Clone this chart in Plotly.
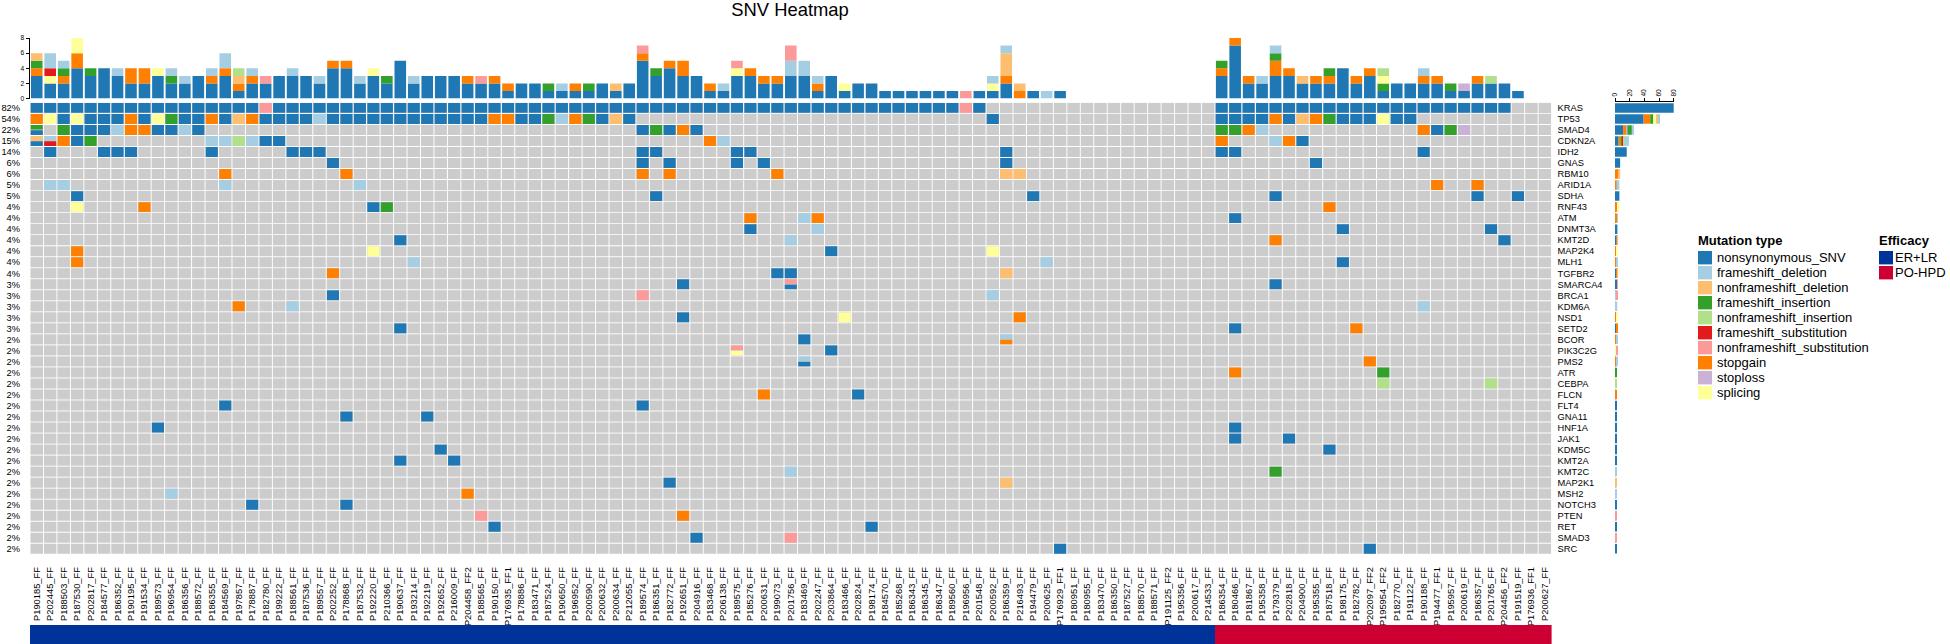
import plotly.graph_objects as go

# ---------------------------------------------------------------- data
samples = """P190185_FF P202445_FF P188503_FF P187530_FF P202817_FF P184577_FF P186352_FF P190195_FF P191534_FF P189573_FF
P196954_FF P186356_FF P188572_FF P186355_FF P184569_FF P197857_FF P178887_FF P182780_FF P199222_FF P188561_FF
P187536_FF P189557_FF P202252_FF P178868_FF P187532_FF P192220_FF P210366_FF P190637_FF P193214_FF P192219_FF
P192652_FF P216009_FF P204458_FF2 P188565_FF P190150_FF P176935_FF1 P178886_FF P183471_FF P187524_FF P190650_FF
P196952_FF P200590_FF P200632_FF P200634_FF P212055_FF P189574_FF P186351_FF P182772_FF P192651_FF P204916_FF
P183468_FF P206138_FF P189575_FF P185276_FF P200631_FF P199073_FF P201756_FF P183469_FF P202247_FF P203864_FF
P183466_FF P202824_FF P198174_FF P184570_FF P185268_FF P186343_FF P186345_FF P186347_FF P189560_FF P196956_FF
P201548_FF P200592_FF P186359_FF P216493_FF P194479_FF P200625_FF P176929_FF1 P180951_FF P180955_FF P183470_FF
P186350_FF P187527_FF P188570_FF P188571_FF P191125_FF2 P195356_FF P200617_FF P214533_FF P186354_FF P180466_FF
P181867_FF P195358_FF P179379_FF P202818_FF P204900_FF P195355_FF P187518_FF P198175_FF P182782_FF P202097_FF2
P195954_FF2 P182770_FF P191122_FF P190188_FF P194477_FF1 P195957_FF P200619_FF P186357_FF P201765_FF P204456_FF2
P191519_FF P176936_FF1 P200627_FF""".split()

efficacy_groups = ["ER+LR", "PO-HPD"]
efficacy_sample_counts = [88, 25]

genes = ["KRAS", "TP53", "SMAD4", "CDKN2A", "IDH2", "GNAS", "RBM10", "ARID1A", "SDHA", "RNF43", "ATM", "DNMT3A",
         "KMT2D", "MAP2K4", "MLH1", "TGFBR2", "SMARCA4", "BRCA1", "KDM6A", "NSD1", "SETD2", "BCOR", "PIK3C2G",
         "PMS2", "ATR", "CEBPA", "FLCN", "FLT4", "GNA11", "HNF1A", "JAK1", "KDM5C", "KMT2A", "KMT2C", "MAP2K1",
         "MSH2", "NOTCH3", "PTEN", "RET", "SMAD3", "SRC"]
gene_percent = [82, 54, 22, 15, 14, 6, 6, 5, 5, 4, 4, 4, 4, 4, 4, 4, 3, 3, 3, 3, 3, 2, 2, 2, 2, 2, 2, 2, 2, 2, 2, 2,
                2, 2, 2, 2, 2, 2, 2, 2, 2]

# legend order, names and colours
mutation_codes = ["N", "fd", "nd", "fi", "ni", "fs", "ns", "sg", "sl", "sp"]
mutation_names = ["nonsynonymous_SNV", "frameshift_deletion", "nonframeshift_deletion", "frameshift_insertion",
                  "nonframeshift_insertion", "frameshift_substitution", "nonframeshift_substitution",
                  "stopgain", "stoploss", "splicing"]
mutation_colors = ["#1F78B4", "#A6CEE3", "#FDBF6F", "#33A02C", "#B2DF8A", "#E31A1C", "#FB9A99", "#FF7F00",
                   "#CAB2D6", "#FFFF99"]
# order in which mutation types pile up, from the bottom of a stack
stack_order = ["N", "sg", "sl", "fi", "sp", "fs", "nd", "ni", "fd", "ns"]

# one record per gene: mutation type -> sample columns that carry it
KRAS = {"N": [0, 1, 2, 3, 4, 5, 6, 7, 8, 9, 10, 11, 12, 13, 14, 15, 16, 18, 19, 20, 21, 22, 23, 24, 25, 26, 27, 28,
              29, 30, 31, 32, 33, 34, 35, 36, 37, 38, 39, 40, 41, 42, 43, 44, 45, 46, 47, 48, 49, 50, 51, 52, 53,
              54, 55, 56, 57, 58, 59, 60, 61, 62, 63, 64, 65, 66, 67, 68, 70, 88, 89, 90, 91, 92, 93, 94, 95, 96,
              97, 98, 99, 100, 101, 102, 103, 104, 105, 106, 107, 108, 109],
        "ns": [17, 69]}
TP53 = {"sg": [0, 7, 13, 16, 34, 35, 40, 92, 95], "sp": [1, 3, 9, 100], "fi": [10, 38, 41, 96],
        "nd": [15, 43, 94], "fd": [21, 39],
        "N": [2, 4, 5, 6, 8, 11, 12, 14, 17, 18, 19, 20, 22, 23, 24, 25, 26, 27, 28, 29, 30, 31, 32, 33, 36, 37, 42,
              44, 71, 88, 89, 90, 91, 93, 97, 98, 99, 101, 102]}
SMAD4 = {"fi": [0, 2, 46, 88, 89, 105], "N": [0, 3, 4, 5, 9, 10, 12, 45, 47, 49, 104], "fd": [6, 11, 91],
         "sg": [7, 8, 48, 90, 103], "sl": [106]}
CDKN2A = {"nd": [0], "N": [0, 3, 17, 18, 94], "fd": [1, 13, 14, 16, 51, 92], "fs": [1], "sg": [2, 50, 88, 93],
          "fi": [4], "ni": [15]}
IDH2 = {"N": [1, 5, 6, 7, 13, 19, 20, 21, 45, 46, 52, 53, 72, 88, 89, 103]}
GNAS = {"N": [22, 45, 47, 52, 54, 72, 95]}
RBM10 = {"sg": [14, 23, 45, 47, 55], "nd": [72, 73]}
ARID1A = {"fd": [1, 2, 14, 24], "sg": [104, 107]}
SDHA = {"N": [3, 46, 74, 92, 107, 110]}
RNF43 = {"sp": [3], "sg": [8, 96], "N": [25], "fi": [26]}
ATM = {"sg": [53, 58], "fd": [57], "N": [89]}
DNMT3A = {"N": [53, 97, 108], "fd": [58]}
KMT2D = {"N": [27, 109], "fd": [56], "sg": [92]}
MAP2K4 = {"sg": [3], "sp": [25, 71], "N": [59]}
MLH1 = {"sg": [3], "fd": [28, 75], "N": [97]}
TGFBR2 = {"sg": [22], "N": [55, 56], "nd": [72]}
SMARCA4 = {"N": [48, 56, 92], "ns": [56]}
BRCA1 = {"N": [22], "ns": [45], "fd": [71]}
KDM6A = {"sg": [15], "fd": [19, 103]}
NSD1 = {"N": [48], "sp": [60], "sg": [73]}
SETD2 = {"N": [27, 89], "sg": [98]}
BCOR = {"N": [57], "fd": [72], "sg": [72]}
PIK3C2G = {"ns": [52], "sp": [52], "N": [59]}
PMS2 = {"fd": [57], "N": [57], "sg": [99]}
ATR = {"sg": [89], "fi": [100]}
CEBPA = {"ni": [100, 108]}
FLCN = {"sg": [54], "N": [61]}
FLT4 = {"N": [14, 45]}
GNA11 = {"N": [23, 29]}
HNF1A = {"N": [9, 89]}
JAK1 = {"N": [89, 93]}
KDM5C = {"N": [30, 96]}
KMT2A = {"N": [27, 31]}
KMT2C = {"fd": [56], "fi": [92]}
MAP2K1 = {"N": [47], "nd": [72]}
MSH2 = {"fd": [10], "sg": [32]}
NOTCH3 = {"N": [16, 23]}
PTEN = {"ns": [33], "sg": [48]}
RET = {"N": [34, 62]}
SMAD3 = {"N": [49], "ns": [56]}
SRC = {"N": [76, 99]}
gene_records = [KRAS, TP53, SMAD4, CDKN2A, IDH2, GNAS, RBM10, ARID1A, SDHA, RNF43, ATM, DNMT3A, KMT2D, MAP2K4, MLH1,
                TGFBR2, SMARCA4, BRCA1, KDM6A, NSD1, SETD2, BCOR, PIK3C2G, PMS2, ATR, CEBPA, FLCN, FLT4, GNA11,
                HNF1A, JAK1, KDM5C, KMT2A, KMT2C, MAP2K1, MSH2, NOTCH3, PTEN, RET, SMAD3, SRC]

top_ticks = [0, 2, 4, 6, 8]
right_ticks = [0, 20, 40, 60, 80]

# ---------------------------------------------------------------- layout constants (pixels)
W, H = 1950, 644
LEFT, RIGHT = 30.0, 1551.6
HM_TOP, HM_BOTTOM = 102.4, 554.3
BAR_TOP, BAR_BOTTOM = 38.0, 98.6
RB_LEFT, RB_RIGHT = 1615.0, 1673.7
ANN_TOP, ANN_BOTTOM = 625.0, 644.0
FONT = "Liberation Sans, Arial, Helvetica, sans-serif"
GREY = "#CCCCCC"

def xdom(a, b):
    return [a / W, b / W]

def ydom(top, bottom):
    return [1 - bottom / H, 1 - top / H]

n_s, n_g = len(samples), len(genes)
color_of = dict(zip(mutation_codes, mutation_colors))
name_of = dict(zip(mutation_codes, mutation_names))

# which types sit in each cell, in stack order
cell_types = {}
for r, rec in enumerate(gene_records):
    for code in stack_order:
        for c in rec.get(code, []):
            cell_types.setdefault((r, c), []).append(code)

CELL_H = 0.90
GAP = 0.06
cell_x = {k: [] for k in mutation_codes}
cell_y = {k: [] for k in mutation_codes}
cell_h = {k: [] for k in mutation_codes}
for (r, c), types in cell_types.items():
    k = len(types)
    h = (CELL_H - GAP * (k - 1)) / k
    # the earliest type in the stack order takes the lower part of the cell
    for j, code in enumerate(reversed(types)):
        cell_x[code].append(c)
        cell_y[code].append(r - CELL_H / 2 + j * (h + GAP))
        cell_h[code].append(h)

# per-sample and per-gene stacked counts
col_counts = {k: [0] * n_s for k in mutation_codes}
row_counts = {k: [0] * n_g for k in mutation_codes}
for (r, c), types in cell_types.items():
    for code in types:
        col_counts[code][c] += 1
        row_counts[code][r] += 1

fig = go.Figure()

# grey background cells
bg_x = [c for r in range(n_g) for c in range(n_s)]
bg_y = [r for r in range(n_g) for c in range(n_s)]
fig.add_trace(go.Bar(x=bg_x, y=[CELL_H + 0.02] * len(bg_x), base=[v - (CELL_H + 0.02) / 2 for v in bg_y], width=0.93,
                     marker=dict(color=GREY, line=dict(width=0)), xaxis="x", yaxis="y", showlegend=False,
                     hoverinfo="skip"))

# mutation cells
for code in stack_order:
    if cell_x[code]:
        fig.add_trace(go.Bar(x=cell_x[code], y=cell_h[code], base=cell_y[code], width=0.90, name=name_of[code],
                             marker=dict(color=color_of[code], line=dict(width=0)), xaxis="x", yaxis="y2",
                             showlegend=False, hoverinfo="skip"))

# top stacked bars
col_base = [0] * n_s
for code in stack_order:
    vals = col_counts[code]
    fig.add_trace(go.Bar(x=list(range(n_s)), y=vals, base=list(col_base), width=0.86, name=name_of[code],
                         marker=dict(color=color_of[code], line=dict(width=0)), xaxis="x2", yaxis="y3",
                         cliponaxis=False, showlegend=False, hoverinfo="skip"))
    col_base = [a + b for a, b in zip(col_base, vals)]

# right stacked bars
row_base = [0] * n_g
for code in stack_order:
    vals = row_counts[code]
    fig.add_trace(go.Bar(y=list(range(n_g)), x=vals, base=list(row_base), width=0.86, orientation="h",
                         name=name_of[code], marker=dict(color=color_of[code], line=dict(width=0)),
                         xaxis="x3", yaxis="y4", cliponaxis=False, showlegend=False, hoverinfo="skip"))
    row_base = [a + b for a, b in zip(row_base, vals)]

# efficacy annotation strip
group_index = [i for i, n in enumerate(efficacy_sample_counts) for _ in range(n)]
efficacy_colors = ["#003399", "#CC0033"]
fig.add_trace(go.Heatmap(z=[group_index], x=list(range(n_s)), y=[0], zmin=0, zmax=1,
                         colorscale=[[0, efficacy_colors[0]], [0.5, efficacy_colors[0]],
                                     [0.5, efficacy_colors[1]], [1, efficacy_colors[1]]],
                         showscale=False, xaxis="x4", yaxis="y5", hoverinfo="skip"))

cell_range = [n_g - 0.5, -0.5]
x_range = [-0.5, n_s - 0.5]
blank = dict(showgrid=False, zeroline=False, showline=False, showticklabels=False, ticks="")
tick_font = dict(family=FONT, size=9.3, color="#000000")
small_font = dict(family=FONT, size=6.6, color="#000000")

fig.update_layout(
    width=W, height=H, autosize=False, margin=dict(l=0, r=0, t=0, b=0, pad=0, autoexpand=False), barmode="overlay",
    paper_bgcolor="#FFFFFF", plot_bgcolor="#FFFFFF", font=dict(family=FONT, color="#000000"),
    title=dict(text="SNV Heatmap", x=790 / W, xanchor="center", y=1 - 9.5 / H, yanchor="middle", yref="container",
               font=dict(family=FONT, size=18.4, color="#000000")),
    xaxis=dict(domain=xdom(LEFT, RIGHT), range=x_range, anchor="y", tickmode="array",
               tickvals=list(range(n_s)), ticktext=samples, tickangle=-90, tickfont=tick_font,
               showgrid=False, zeroline=False, showline=False, ticks="", ticklabelstandoff=10, automargin=False),
    yaxis=dict(domain=ydom(HM_TOP, HM_BOTTOM), range=cell_range, anchor="x", tickmode="array",
               tickvals=list(range(n_g)), ticktext=[f"{p}%" for p in gene_percent], tickfont=tick_font,
               showgrid=False, zeroline=False, showline=False, ticks="", ticklabelstandoff=9, automargin=False),
    yaxis2=dict(domain=ydom(HM_TOP, HM_BOTTOM), range=cell_range, anchor="x", overlaying="y", side="right",
                tickmode="array", tickvals=list(range(n_g)), ticktext=genes, tickfont=tick_font,
                showgrid=False, zeroline=False, showline=False, ticks="", ticklabelstandoff=5, automargin=False),
    xaxis2=dict(domain=xdom(LEFT, RIGHT), range=x_range, anchor="y3", **blank),
    yaxis3=dict(domain=ydom(BAR_TOP, BAR_BOTTOM), range=[0, 8], anchor="x2", tickmode="array", tickvals=top_ticks,
                showgrid=False, zeroline=False, showline=True, linecolor="#000000", linewidth=1, ticks="outside",
                ticklen=3.5, tickwidth=1, tickcolor="#000000", tickfont=small_font),
    xaxis3=dict(domain=xdom(RB_LEFT, RB_RIGHT), range=[0, 80], anchor="y4", side="top", tickmode="array",
                tickvals=right_ticks, tickangle=-90, showgrid=False, zeroline=False, showline=True,
                linecolor="#000000", linewidth=1, ticks="outside", ticklen=3.5, tickwidth=1, tickcolor="#000000",
                tickfont=small_font),
    yaxis4=dict(domain=ydom(HM_TOP, HM_BOTTOM), range=cell_range, anchor="x3", **blank),
    xaxis4=dict(domain=xdom(LEFT, RIGHT), range=x_range, anchor="y5", **blank),
    yaxis5=dict(domain=ydom(ANN_TOP, ANN_BOTTOM), range=[-0.5, 0.5], anchor="x4", **blank),
)

# hand-placed legends, as in the reference
LEG_X, EFF_X, TITLE_Y, FIRST_Y, STEP = 1698.0, 1879.0, 240.0, 257.7, 15.0

def legend_block(x0, title, labels, colors, text_dx):
    fig.add_annotation(x=x0 / W, y=1 - TITLE_Y / H, xref="paper", yref="paper", xanchor="left", yanchor="middle",
                       text=f"<b>{title}</b>", showarrow=False, font=dict(family=FONT, size=13, color="#000000"),
                       borderpad=0, borderwidth=0)
    for k, (lab, col) in enumerate(zip(labels, colors)):
        yc = FIRST_Y + k * STEP
        fig.add_shape(type="rect", xref="paper", yref="paper", x0=x0 / W, x1=(x0 + 14) / W,
                      y0=1 - (yc + 6.7) / H, y1=1 - (yc - 6.7) / H, fillcolor=col, line=dict(width=0))
        fig.add_annotation(x=(x0 + text_dx) / W, y=1 - yc / H, xref="paper", yref="paper", xanchor="left",
                           yanchor="middle", text=lab, showarrow=False, borderpad=0, borderwidth=0,
                           font=dict(family=FONT, size=13, color="#000000"))

legend_block(LEG_X, "Mutation type", mutation_names, mutation_colors, 18.5)
legend_block(EFF_X, "Efficacy", efficacy_groups, efficacy_colors, 15.5)

fig.write_html("out.html", config={"displayModeBar": False},
               post_script="document.body.style.margin='0';document.body.style.overflow='hidden';")
